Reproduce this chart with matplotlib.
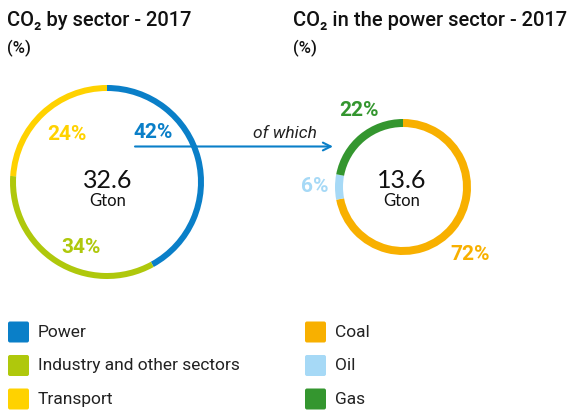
import matplotlib.pyplot as plt
from matplotlib.patches import FancyBboxPatch

plt.rcParams['font.family'] = ['Roboto', 'DejaVu Sans']

# data
sectors = ["Power", "Industry and other sectors", "Transport"]
sector_share = [42, 34, 24]
sector_colors = ["#0a7fc8", "#afc80c", "#ffd200"]
sector_total = "32.6"

fuels = ["Coal", "Oil", "Gas"]
fuel_share = [72, 6, 22]
fuel_colors = ["#f8b000", "#a6d9f6", "#34962f"]
fuel_total = "13.6"

H = 411
fig = plt.figure(figsize=(5.70, 4.11), dpi=100)
ax = fig.add_axes([0, 0, 1, 1])


def donut(vals, cols, cx, cy, r, w):
    ax.pie(vals, colors=cols, center=(cx, H - cy), radius=r, startangle=90,
           counterclock=False, wedgeprops=dict(width=w, linewidth=0))


donut(sector_share, sector_colors, 107, 182, 97, 6)
donut(fuel_share, fuel_colors, 403, 187, 68, 8)

ax.set_xlim(0, 570)
ax.set_ylim(0, H)
ax.set_aspect('auto')
ax.axis('off')


def txt(x, y, s, **kw):
    ax.text(x, H - y, s, **kw)


# titles
txt(7, 21, "CO\u2082 by sector - 2017", fontsize=14.5, fontweight='medium', va='center', color='#111111')
txt(7, 48, "(%)", fontsize=12, fontweight='medium', va='center', color='#111111')
txt(293, 21, "CO\u2082 in the power sector - 2017", fontsize=14.5, fontweight='medium', va='center', color='#111111')
txt(293, 48, "(%)", fontsize=12, fontweight='medium', va='center', color='#111111')

# center totals
for cx, total in [(108, sector_total), (402, fuel_total)]:
    txt(cx, 180, total, fontsize=18, ha='center', va='center', family='Lato', color='#111111')
    txt(cx, 201, "Gton", fontsize=12, ha='center', va='center', family='Lato', color='#111111')

# percentage labels
lab = dict(fontsize=15, fontweight='bold', ha='center', va='center')
txt(153, 132, f"{sector_share[0]}%", color=sector_colors[0], **lab)
txt(81, 247, f"{sector_share[1]}%", color=sector_colors[1], **lab)
txt(67, 134, f"{sector_share[2]}%", color=sector_colors[2], **lab)
txt(470, 255, f"{fuel_share[0]}%", color=fuel_colors[0], **lab)
txt(315, 187, f"{fuel_share[1]}%", color=fuel_colors[1], **lab)
txt(359, 110, f"{fuel_share[2]}%", color=fuel_colors[2], **lab)

# arrow
ax.annotate("", xy=(333, H - 146.5), xytext=(135, H - 146.5),
            arrowprops=dict(arrowstyle='->', color=sector_colors[0], lw=1.5,
                            mutation_scale=14, shrinkA=0, shrinkB=0))
txt(285, 133, "of which", fontsize=12.5, style='italic', ha='center', va='center', color='#222222')

# legends
def legend(x, labels, cols):
    for i, (l, c) in enumerate(zip(labels, cols)):
        y = 332 + i * 33.5
        ax.add_patch(FancyBboxPatch((x + 1, H - y - 9.5), 19, 19,
                                    boxstyle="round,pad=1,rounding_size=2",
                                    fc=c, ec='none'))
        txt(x + 30, y, l, fontsize=12.5, va='center', color='#222222')


legend(8, sectors, sector_colors)
legend(305, fuels, fuel_colors)

fig.savefig("out.png", dpi=100)
